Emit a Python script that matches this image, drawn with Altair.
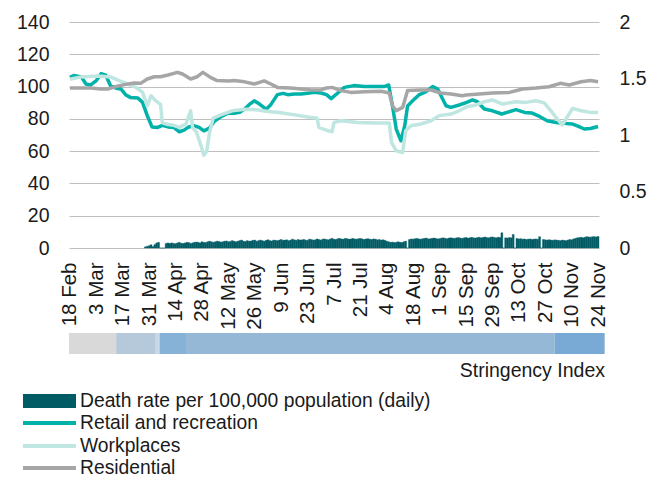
import altair as alt
import pandas as pd

FONT = "Liberation Sans"
TEXT_COLOR = "#1a1a1a"
BASE = pd.Timestamp("2020-02-18")

# ---- mobility series (days after 18 Feb 2020, index value) ----
retail_days = [0, 2, 6, 8.5, 11, 14, 16.5, 19, 21.5, 24.5, 27, 29.5, 32, 36, 38.5, 41, 43.5, 46.5, 49, 52,
               55, 58, 60.5, 63, 66, 68.5, 71, 74, 76.5, 80, 83.5, 87, 90, 92.5, 95, 97.7, 100.5, 104, 106.5,
               110, 113, 115.5, 119, 122.5, 126, 129.5, 133, 136, 138.5, 142, 145.5, 150.5, 156, 161, 166.5,
               169, 171, 173, 175.5, 177.5, 179, 181.7, 185, 188.8, 192.3, 195, 197.6, 199.4, 202, 206.4,
               210, 213.5, 216, 219.7, 224, 229, 236.5, 241, 245, 249, 253, 257.7, 262, 266.5, 269, 272.7,
               276, 280]
retail_vals = [105.7, 106.8, 106, 101.6, 101, 103.7, 108, 107, 100.5, 99, 98.5, 95, 93.3, 92.9, 90.2, 82, 75,
               74.7, 76, 75, 74.7, 72, 73, 75, 75.7, 74.7, 72.6, 74.3, 78.4, 81.3, 83.4, 83.4, 84, 86, 88.8,
               91.2, 89.2, 86, 88.8, 95, 95.8, 95, 95.4, 95.4, 95.8, 96.5, 96, 95, 92.5, 96, 99.5, 100.6, 100,
               100, 100, 101, 88, 73.7, 66.4, 75.7, 88, 91.2, 94.8, 96.8, 100, 98.5, 92.3, 88.1, 87.1, 88.6,
               90, 91.7, 90.6, 86.1, 85, 83, 85.7, 84, 83.6, 81.5, 78.8, 77.8, 77.2, 76.8, 75.7, 73.7, 74,
               75.3]

work_days = [0, 6, 15, 21.5, 26, 30.5, 35, 38.5, 41, 43, 45.5, 48, 49, 52, 55, 58, 61.5, 64, 65, 67, 69.5,
             71, 72.5, 74, 76, 80, 86, 93, 100, 105, 111, 120, 127, 131, 132, 137, 139, 140, 143.7, 152.5,
             161.5, 169.3, 170.5, 173, 176.4, 178, 180.8, 186, 191.4, 195.8, 202, 206.4, 210.5, 215.3,
             219.7, 224, 229.4, 236.5, 241.8, 247, 251.5, 255, 261, 266.5, 271, 276, 280]
work_vals = [104.5, 106, 106.5, 106, 103.7, 101.6, 99.5, 96.4, 88, 94.3, 91.2, 89, 77.5, 76.5, 76, 74.7,
             76.8, 85, 74.7, 72, 63.3, 57.5, 60, 71.6, 80.5, 82.5, 85, 86, 85.5, 84.5, 84, 82.3, 81, 80.5,
             74.7, 72.6, 72, 77.8, 78.8, 77.8, 77.4, 77.4, 65.4, 60.2, 59.2, 72.6, 75.7, 76.8, 78.8, 82, 83,
             85, 87.5, 88.6, 90.6, 91.7, 89.2, 90.6, 90.2, 91.2, 89.9, 85, 76.2, 86.5, 85, 84, 84]

resid_days = [0, 11, 16.5, 20, 24.5, 29, 34, 37.5, 41, 44.7, 48, 52, 57, 59.7, 64, 67.5, 70.5, 74.5, 78, 84,
              87, 91.5, 97.7, 103, 106.5, 110, 117, 122.5, 128, 133, 136, 139, 143.7, 149, 156, 165, 169.3,
              171, 173, 176.4, 179, 186, 191.4, 196.7, 202, 208, 210, 217, 224, 233, 240, 247, 254, 260,
              264.7, 271, 276, 280]
resid_vals = [99.1, 99.1, 98.5, 98.5, 100, 101.2, 102.2, 102, 104.7, 106.1, 106.1, 107.2, 108.8, 107.8,
              104.7, 106.1, 108.8, 105.7, 103.7, 103.5, 103.7, 103.2, 101.6, 103.5, 101.6, 99.5, 99.1, 98.5,
              97.9, 97.9, 99.1, 99.5, 97.5, 96.4, 96.8, 97.1, 96, 88.1, 85, 87.1, 97.5, 97.9, 97.9, 96, 95.4,
              94.3, 94.8, 95.4, 96, 96.4, 98.5, 99.1, 99.9, 102, 101, 103, 103.7, 103]

# ---- daily death rate per 100,000 (first value = 40 days after 18 Feb) ----
death_first_day = 40
death_rate = [
    0.010, 0.015, 0.020, 0.028, 0.012, 0.030, 0.045, 0.050, 0.0, 0.0, 0.0, 0.040, 0.045, 0.040,
    0.045, 0.040, 0.038, 0.045, 0.050, 0.042, 0.040, 0.045, 0.050, 0.048, 0.040, 0.045, 0.050, 0.052,
    0.050, 0.045, 0.055, 0.050, 0.048, 0.055, 0.060, 0.055, 0.050, 0.055, 0.060, 0.058, 0.052, 0.055,
    0.060, 0.062, 0.055, 0.058, 0.065, 0.060, 0.055, 0.060, 0.065, 0.070, 0.060, 0.058, 0.065, 0.060,
    0.062, 0.068, 0.070, 0.060, 0.065, 0.070, 0.065, 0.060, 0.068, 0.072, 0.065, 0.062, 0.070, 0.068,
    0.065, 0.070, 0.075, 0.068, 0.070, 0.072, 0.065, 0.070, 0.078, 0.072, 0.068, 0.075, 0.070, 0.072,
    0.075, 0.070, 0.068, 0.078, 0.075, 0.070, 0.072, 0.080, 0.075, 0.070, 0.078, 0.080, 0.075, 0.072,
    0.080, 0.085, 0.078, 0.075, 0.082, 0.085, 0.080, 0.078, 0.085, 0.082, 0.078, 0.080, 0.085, 0.080,
    0.078, 0.082, 0.085, 0.080, 0.075, 0.080, 0.082, 0.078, 0.075, 0.080, 0.078, 0.072, 0.075, 0.070,
    0.072, 0.068, 0.060, 0.055, 0.050, 0.052, 0.048, 0.050, 0.055, 0.050, 0.048, 0.055, 0.060, 0.0,
    0.075, 0.080, 0.078, 0.082, 0.085, 0.080, 0.078, 0.082, 0.085, 0.088, 0.080, 0.082, 0.085, 0.088,
    0.085, 0.080, 0.083, 0.087, 0.090, 0.085, 0.082, 0.088, 0.090, 0.087, 0.085, 0.090, 0.092, 0.088,
    0.085, 0.090, 0.092, 0.088, 0.090, 0.095, 0.090, 0.088, 0.092, 0.095, 0.090, 0.093, 0.097, 0.092,
    0.090, 0.095, 0.098, 0.093, 0.090, 0.095, 0.092, 0.135, 0.0, 0.090, 0.088, 0.092, 0.090, 0.120,
    0.0, 0.085, 0.080, 0.082, 0.078, 0.080, 0.075, 0.078, 0.080, 0.076, 0.078, 0.080, 0.077, 0.100,
    0.0, 0.075, 0.072, 0.070, 0.073, 0.070, 0.068, 0.072, 0.070, 0.068, 0.065, 0.070, 0.068, 0.065,
    0.070, 0.075, 0.072, 0.080, 0.085, 0.090, 0.092, 0.095, 0.090, 0.095, 0.100, 0.098, 0.095, 0.100,
    0.100, 0.098, 0.102,
]

# ---- stringency index strip ----
stringency_start = [-0.5, 24.5, 45.5, 47.5, 62, 257]
stringency_end = [24.5, 45.5, 47.5, 62, 257, 283.5]
stringency_value = [11.1, 45.4, 62.0, 79.6, 73.2, 82.4]
stringency_colors = ["#d9d9d9", "#b6c9db", "#c9d8e6", "#86b2d8", "#94b8d6", "#79aad5"]

tick_days = list(range(0, 281, 14))

legend_labels = ["Death rate per 100,000 population (daily)", "Retail and recreation",
                 "Workplaces", "Residential"]
series_colors = ["#005b64", "#00b2a9", "#bfe6e1", "#a6a6a6"]


def at(days):
    return BASE + pd.to_timedelta(pd.Series(days, dtype=float), unit="D")


def dt(ts):
    return alt.DateTime(year=ts.year, month=ts.month, date=ts.day, hours=ts.hour)


x_domain = [dt(BASE - pd.Timedelta(hours=12)), dt(BASE + pd.Timedelta(days=280, hours=12))]
x_scale = alt.Scale(domain=x_domain)
tick_values = [dt(BASE + pd.Timedelta(days=d)) for d in tick_days]

W, H = 530, 226
LABEL_SIZE = 19.5

x_axis = alt.Axis(values=tick_values, format="%-d %b", labelAngle=270, labelFontSize=20.5,
                  labelFont=FONT, labelColor=TEXT_COLOR, labelPadding=14, ticks=False, domain=False,
                  grid=False, title=None, labelOverlap=False, labelFlush=False, labelBound=False)

left_axis = alt.Axis(orient="left", values=list(range(0, 141, 20)), grid=True, gridColor="#bfbfbf",
                     gridWidth=1, ticks=False, domain=False, labelPadding=20, labelFontSize=LABEL_SIZE,
                     labelFont=FONT, labelColor=TEXT_COLOR, title=None)
right_axis = alt.Axis(orient="right", values=[0, 0.5, 1, 1.5, 2], format="~g", grid=False,
                      ticks=False, domain=False, labelPadding=20, labelFontSize=LABEL_SIZE, labelFont=FONT,
                      labelColor=TEXT_COLOR, title=None)

# bars
death_days = [death_first_day + i for i in range(len(death_rate))]
bars_df = pd.DataFrame({
    "x0": at([d - 0.5 for d in death_days]),
    "x1": at([d + 0.5 for d in death_days]),
    "rate": death_rate,
})
bars = alt.Chart(bars_df).mark_rect(color=series_colors[0], stroke=series_colors[0],
                                     strokeWidth=0.4).encode(
    x=alt.X("x0:T", scale=x_scale, axis=x_axis),
    x2="x1:T",
    y=alt.Y("rate:Q", scale=alt.Scale(domain=[0, 2], nice=False), axis=right_axis),
    y2=alt.datum(0),
)


def line_layer(days, vals, color):
    df = pd.DataFrame({"date": at(days), "value": vals})
    return alt.Chart(df).mark_line(color=color, strokeWidth=3.5, strokeJoin="round").encode(
        x=alt.X("date:T", scale=x_scale, axis=x_axis),
        y=alt.Y("value:Q", scale=alt.Scale(domain=[0, 140], nice=False), axis=left_axis),
    )


lines = alt.layer(
    line_layer(retail_days, retail_vals, series_colors[1]),
    line_layer(work_days, work_vals, series_colors[2]),
    line_layer(resid_days, resid_vals, series_colors[3]),
)

# stringency strip below the axis labels
strip_df = pd.DataFrame({
    "s": at(stringency_start),
    "e": at(stringency_end),
    "level": stringency_value,
})
strip = alt.Chart(strip_df).mark_rect().encode(
    x=alt.X("s:T", scale=x_scale, axis=x_axis),
    x2="e:T",
    y=alt.value(311),
    y2=alt.value(332),
    color=alt.Color("level:O", scale=alt.Scale(domain=stringency_value, range=stringency_colors),
                    legend=None),
)
strip_label = alt.Chart(pd.DataFrame({"t": ["Stringency Index"]})).mark_text(
    align="right", baseline="middle", fontSize=19.5, font=FONT, color=TEXT_COLOR
).encode(x=alt.value(W + 6), y=alt.value(349), text="t:N")

# custom legend
leg_y = [379, 401, 424, 446]
LEG_SIZE = 19.3
legend_layers = []
legend_layers.append(
    alt.Chart(pd.DataFrame({"t": [legend_labels[0]]})).mark_rect(color=series_colors[0]).encode(
        x=alt.value(-46), x2=alt.value(7), y=alt.value(leg_y[0] - 7), y2=alt.value(leg_y[0] + 7))
)
for i in range(1, 4):
    legend_layers.append(
        alt.Chart(pd.DataFrame({"t": [legend_labels[i]]})).mark_rule(
            color=series_colors[i], strokeWidth=4).encode(
            x=alt.value(-46), x2=alt.value(7), y=alt.value(leg_y[i]))
    )
for i in range(4):
    legend_layers.append(
        alt.Chart(pd.DataFrame({"t": [legend_labels[i]]})).mark_text(
            align="left", baseline="middle", fontSize=LEG_SIZE, font=FONT, color=TEXT_COLOR
        ).encode(x=alt.value(11), y=alt.value(leg_y[i]), text="t:N")
    )

chart = alt.layer(bars, lines, strip, strip_label, *legend_layers).resolve_scale(
    y="independent"
).properties(
    width=W, height=H,
    padding={"left": 8, "top": 4, "right": 5, "bottom": 0},
    background="white",
).configure_view(stroke=None)

chart.save("out.html", embed_options={"renderer": "svg", "actions": False})
